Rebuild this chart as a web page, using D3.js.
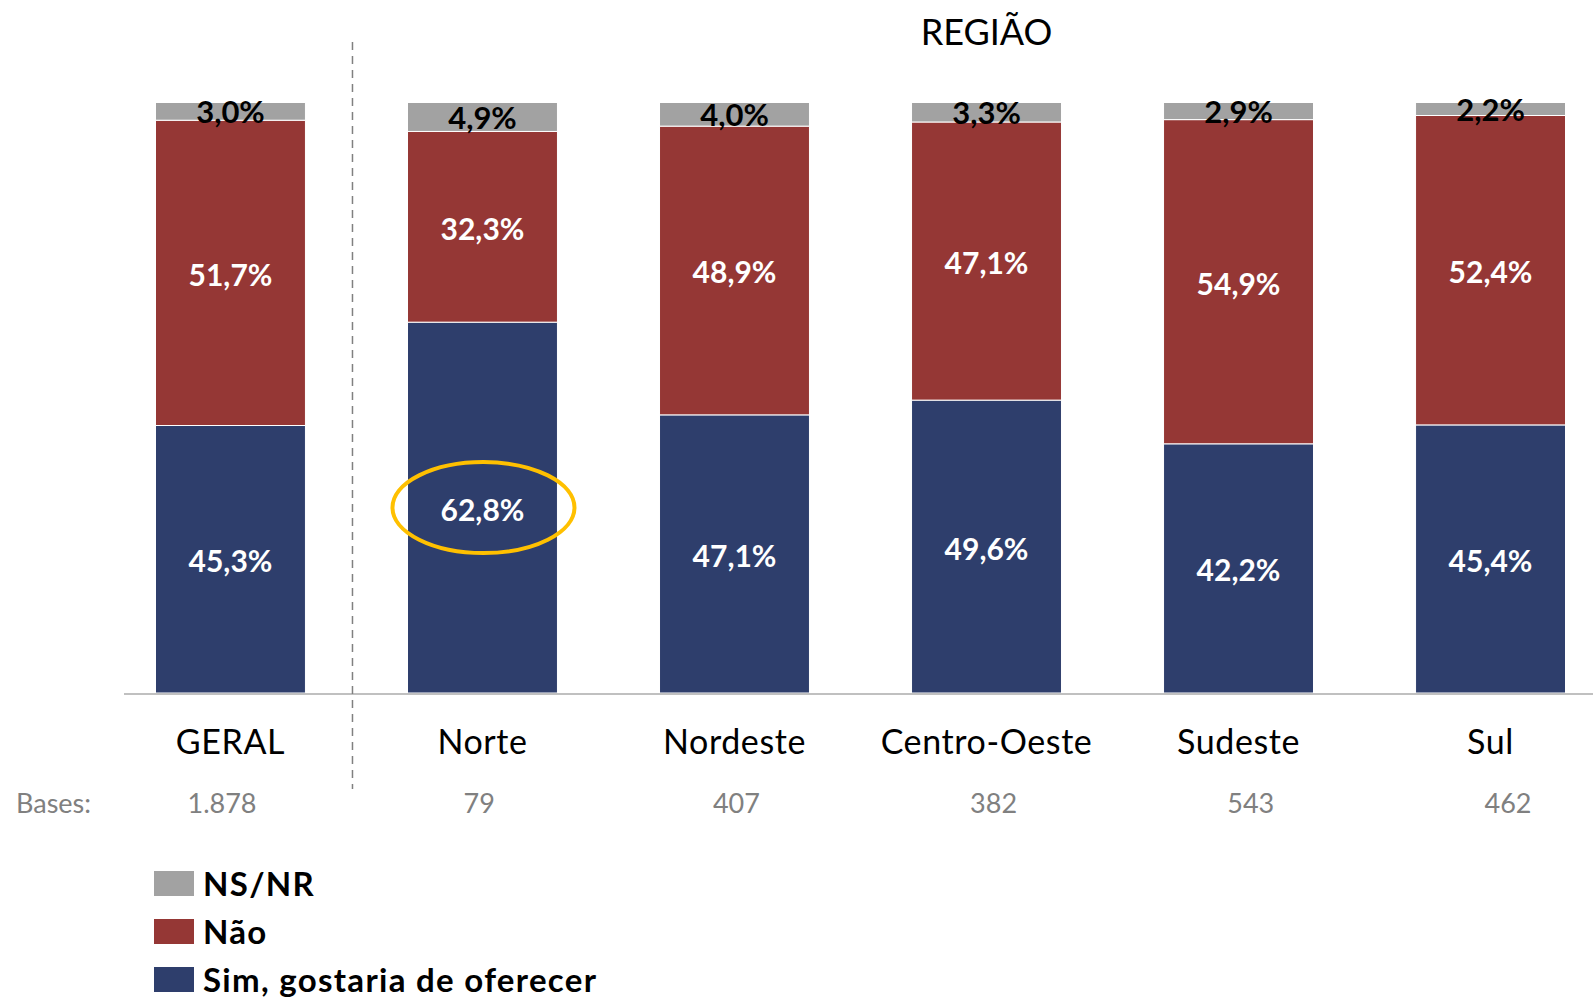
<!DOCTYPE html>
<html>
<head>
<meta charset="utf-8">
<script src="https://cdn.jsdelivr.net/npm/d3@7"></script>
<style>
  html, body { margin: 0; padding: 0; background: #fff; }
  svg { display: block; font-family: Lato, "Open Sans", sans-serif; }
</style>
</head>
<body>
<svg id="chart" width="1593" height="999"></svg>
<script>
// Categories and survey bases
const categories = ["GERAL", "Norte", "Nordeste", "Centro-Oeste", "Sudeste", "Sul"];
const bases = ["1.878", "79", "407", "382", "543", "462"];

// Series values (%), stacked bottom to top
const sim  = [45.3, 62.8, 47.1, 49.6, 42.2, 45.4];
const nao  = [51.7, 32.3, 48.9, 47.1, 54.9, 52.4];
const nsnr = [3.0, 4.9, 4.0, 3.3, 2.9, 2.2];

const seriesNames = ["Sim, gostaria de oferecer", "Não", "NS/NR"];
const seriesColors = ["#2e3e6c", "#953735", "#a2a2a2"];
const labelColors = ["#ffffff", "#ffffff", "#000000"];
const highlighted = { category: "Norte", series: 0 };

const rows = categories.map((c, i) => ({ cat: c, s0: sim[i], s1: nao[i], s2: nsnr[i] }));
const stack = d3.stack().keys(["s0", "s1", "s2"])(rows);

const svg = d3.select("#chart");
const x = d3.scaleBand().domain(categories).range([155.5, 1565.5]).paddingInner(0.405).paddingOuter(0);
const y = d3.scaleLinear().domain([0, 100]).range([693, 102.5]);
const xb = d3.scalePoint().domain(categories).range([222, 1508]);
const fmt = v => d3.format(".1f")(v).replace(".", ",") + "%";

// Stacked bars
const layers = svg.append("g").selectAll("g").data(stack).join("g")
  .attr("fill", (d, i) => seriesColors[i]);
layers.selectAll("rect").data(d => d).join("rect")
  .attr("x", d => x(d.data.cat))
  .attr("width", x.bandwidth())
  .attr("y", d => y(d[1]))
  .attr("height", d => y(d[0]) - y(d[1]))
  .attr("stroke", "#ffffff")
  .attr("stroke-width", 1);

// Value labels inside segments
stack.forEach((layer, si) => {
  svg.append("g").selectAll("text").data(layer).join("text")
    .attr("x", d => x(d.data.cat) + x.bandwidth() / 2)
    .attr("y", d => (y(d[0]) + y(d[1])) / 2 + (si === 2 ? 0 : 1))
    .attr("text-anchor", "middle")
    .attr("dominant-baseline", "central")
    .attr("font-size", si === 2 ? 31 : 30)
    .attr("font-weight", 700)
    .attr("fill", labelColors[si])
    .text(d => fmt(d[1] - d[0]));
});

// Highlight ring around the Norte "Sim" value
const hl = stack[highlighted.series].find(d => d.data.cat === highlighted.category);
svg.append("ellipse")
  .attr("cx", x(hl.data.cat) + x.bandwidth() / 2 + 1)
  .attr("cy", (y(hl[0]) + y(hl[1])) / 2)
  .attr("rx", 91)
  .attr("ry", 45.5)
  .attr("fill", "none")
  .attr("stroke", "#ffc000")
  .attr("stroke-width", 4);

// Baseline
svg.append("line")
  .attr("x1", 124).attr("x2", 1593)
  .attr("y1", y(0) + 1).attr("y2", y(0) + 1)
  .attr("stroke", "#c0c0c0").attr("stroke-width", 2);

// Dashed separator between overall and regions
const sepX = (x(categories[0]) + x.bandwidth() + x(categories[1])) / 2 - 4;
svg.append("line")
  .attr("x1", sepX).attr("x2", sepX)
  .attr("y1", 42).attr("y2", 789)
  .attr("stroke", "#808080").attr("stroke-width", 1.5)
  .attr("stroke-dasharray", "8,6");

// Group title over the regions
const regionCenter = (x(categories[1]) + x(categories[categories.length - 1]) + x.bandwidth()) / 2;
svg.append("text")
  .attr("x", regionCenter).attr("y", 45)
  .attr("text-anchor", "middle")
  .attr("font-size", 36)
  .attr("fill", "#000")
  .text("REGIÃO");

// Category axis labels
const xAxis = d3.axisBottom(x).tickSize(0).tickPadding(0);
const gx = svg.append("g").attr("transform", `translate(0, ${y(0)})`).call(xAxis);
gx.select(".domain").remove();
gx.selectAll("text")
  .attr("y", 61)
  .attr("dy", null)
  .attr("font-size", 34)
  .attr("letter-spacing", 0.6)
  .attr("font-family", "Lato, 'Open Sans', sans-serif")
  .attr("fill", "#000");

// Bases row
svg.append("text")
  .attr("x", 16).attr("y", 813)
  .attr("font-size", 27).attr("fill", "#808080")
  .text("Bases:");
svg.append("g").selectAll("text").data(bases).join("text")
  .attr("x", (d, i) => xb(categories[i]))
  .attr("y", 813)
  .attr("text-anchor", "middle")
  .attr("font-size", 27).attr("fill", "#808080")
  .text(d => d);

// Legend (top series first)
const legendOrder = [2, 1, 0];
const lg = svg.append("g").selectAll("g").data(legendOrder).join("g")
  .attr("transform", (d, i) => `translate(154, ${871 + i * 48})`);
lg.append("rect")
  .attr("width", 40).attr("height", 25)
  .attr("fill", d => seriesColors[d]);
lg.append("text")
  .attr("x", 49).attr("y", 25)
  .attr("font-size", 33).attr("font-weight", 700)
  .attr("letter-spacing", 1.3)
  .attr("fill", "#000")
  .text(d => seriesNames[d]);
</script>
</body>
</html>
